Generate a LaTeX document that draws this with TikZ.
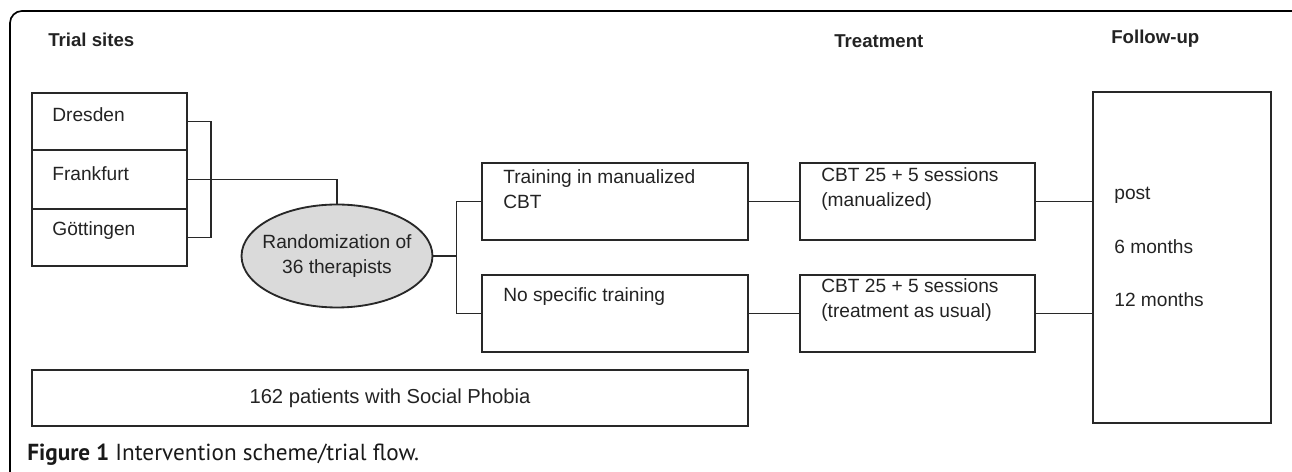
\documentclass[tikz,border=0pt]{standalone}
\usepackage{fontspec}
\setmainfont{Liberation Sans}
\newfontfamily\capfont{PT Sans}
\usepackage{xcolor}
\usetikzlibrary{shapes.geometric}
\definecolor{linec}{RGB}{40,40,40}
\definecolor{textc}{RGB}{35,35,35}
\definecolor{ovalc}{RGB}{218,218,218}
\tikzset{
 box/.style={draw=linec,line width=1.05pt,anchor=north west,inner sep=0pt,outer sep=0pt},
 txt/.style={anchor=west,inner sep=0pt,text=textc,align=left,font=\fontsize{10.9}{14.2}\selectfont},
 head/.style={txt,font=\fontsize{10.6}{12}\selectfont\bfseries},
 link/.style={draw=linec,line width=1.05pt}
}
\begin{document}
\begin{tikzpicture}[x=0.02cm,y=-0.02cm]
\path[use as bounding box](0,0) rectangle (1292,472);
\clip(0,0) rectangle (1292,472);
\draw[line width=0.95pt,rounded corners=0.24cm](10,11) rectangle (1310,500);

\node[head] (hsites) at (48,40) {Trial sites};
\node[head] (htreat) at (834,41) {Treatment};
\node[head] (hfollow) at (1111,39) {Follow-up};

\node[box,minimum width=3.1cm,minimum height=1.14cm] (dresden) at (32,93) {};
\node[box,minimum width=3.1cm,minimum height=1.18cm] (frankfurt) at (32,150) {};
\node[box,minimum width=3.1cm,minimum height=1.14cm] (goettingen) at (32,209) {};
\node[txt] (tdresden) at (52,115) {Dresden};
\node[txt] (tfrankfurt) at (52,174) {Frankfurt};
\node[txt] (tgoettingen) at (52,231) {Göttingen};

\node[ellipse,draw=linec,line width=1.05pt,fill=ovalc,inner sep=0pt,outer sep=0pt,
 minimum width=3.82cm,minimum height=2.06cm] (rando) at (337,256) {};
\node[txt,anchor=center,align=center] (trando) at (rando) {Randomization of\\36 therapists};

\node[box,minimum width=5.32cm,minimum height=1.54cm] (train) at (482,163) {};
\node[box,minimum width=5.32cm,minimum height=1.54cm] (notrain) at (482,275) {};
\node[txt] (ttrain) at (503,189) {Training in manualized\\CBT};
\node[txt] (tnotrain) at (503,297) {No specific training};

\node[box,minimum width=4.7cm,minimum height=1.54cm] (cbtman) at (800,163) {};
\node[box,minimum width=4.7cm,minimum height=1.54cm] (cbttau) at (800,275) {};
\node[txt] (tcbtman) at (821,189) {CBT 25 + 5 sessions\\(manualized)};
\node[txt] (tcbttau) at (821,300) {CBT 25 + 5 sessions\\(treatment as usual)};

\node[box,minimum width=3.56cm,minimum height=6.62cm] (follow) at (1093,92) {};
\node[txt] (fpost) at (1114,195) {post};
\node[txt] (fsix) at (1114,247) {6 months};
\node[txt] (ftwelve) at (1114,300) {12 months};

\node[box,minimum width=14.32cm,minimum height=1.12cm,text=textc,
 font=\fontsize{11.5}{14.2}\selectfont] (patients) at (32,370) {162 patients with Social Phobia};

\node[anchor=west,inner sep=0pt,text=black!90,font=\capfont\fontsize{13.2}{15}\selectfont]
 (caption) at (27,455) {\textbf{Figure 1} Intervention scheme/trial flow.};

\draw[link](dresden.east)--++(24,0)|-(goettingen.east);
\draw[link](frankfurt.east)-|(rando.north);
\draw[link](rando.east)--++(24,0)coordinate(split);
\draw[link](train.west)-|(split)|-(notrain.west);
\draw[link](train.east)--(cbtman.west);
\draw[link](notrain.east)--(cbttau.west);
\draw[link](cbtman.east)--(cbtman.east-|follow.west);
\draw[link](cbttau.east)--(cbttau.east-|follow.west);
\end{tikzpicture}
\end{document}
